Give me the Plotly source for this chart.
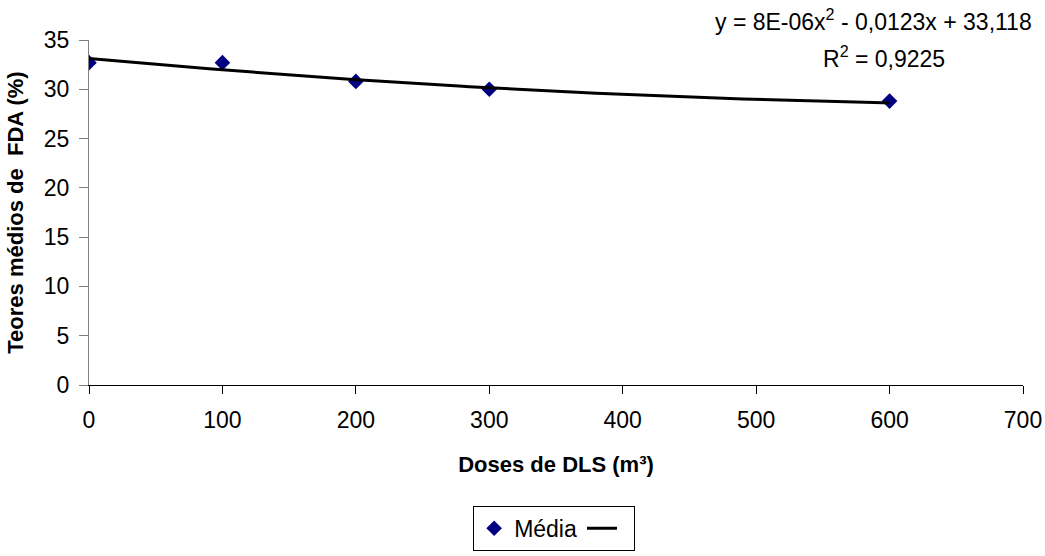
import numpy as np
import plotly.graph_objects as go

doses = [0, 100, 200, 300, 600]
media = [32.7, 32.7, 30.8, 30.0, 28.8]

# trendline coefficients as displayed on chart
coef_a = 8e-06
coef_b = -0.0123
coef_c = 33.118
trend_x = np.linspace(0, 600, 121)
trend_y = coef_a * trend_x**2 + coef_b * trend_x + coef_c

x_ticks = [0, 100, 200, 300, 400, 500, 600, 700]
y_ticks = [0, 5, 10, 15, 20, 25, 30, 35]

font_fam = "Liberation Sans, Arial, sans-serif"

fig = go.Figure()
fig.add_trace(go.Scatter(
    x=doses, y=media, mode="markers", name="Média",
    marker=dict(symbol="diamond", size=12, color="#000080"),
))
fig.add_trace(go.Scatter(
    x=trend_x, y=trend_y, mode="lines", name=" ",
    line=dict(color="black", width=3),
))

fig.update_layout(
    width=1045, height=556,
    margin=dict(l=89, r=22, t=40, b=171, autoexpand=False),
    paper_bgcolor="white", plot_bgcolor="white",
    font=dict(family=font_fam, size=23, color="black"),
    showlegend=True,
    legend=dict(
        orientation="h", x=0.498, xanchor="center", y=-0.35, yanchor="top",
        bordercolor="black", borderwidth=1, font=dict(size=23),
        itemwidth=30, tracegroupgap=0,
    ),
    xaxis=dict(
        range=[0, 700], tickvals=x_ticks, showgrid=False, zeroline=False,
        showline=True, linecolor="black", linewidth=1, automargin=False,
        ticks="outside", ticklen=8, tickcolor="black", ticklabelstandoff=6,
        title=dict(text="<b>Doses de DLS (m³)</b>", standoff=25, font=dict(size=22)),
    ),
    yaxis=dict(
        range=[0, 35], tickvals=y_ticks, showgrid=False, zeroline=False,
        showline=True, linecolor="#808080", linewidth=1, automargin=False,
        ticks="outside", ticklen=9, tickcolor="#808080", ticklabelstandoff=5,
        title=dict(text="<b>Teores médios de  FDA (%)</b>", standoff=14, font=dict(size=22)),
    ),
)

fig.add_annotation(
    xref="paper", yref="paper", x=(873 - 89) / 934, y=(385 - 20) / 345,
    text="y = 8E-06x<sup>2</sup> - 0,0123x + 33,118", showarrow=False,
    xanchor="center", yanchor="middle", font=dict(size=23),
)
fig.add_annotation(
    xref="paper", yref="paper", x=(884 - 89) / 934, y=(385 - 57) / 345,
    text="R<sup>2</sup> = 0,9225", showarrow=False,
    xanchor="center", yanchor="middle", font=dict(size=23),
)

fig.write_html(
    "out.html",
    config={"displayModeBar": False},
    post_script="document.body.style.margin='0px'; document.body.style.overflow='hidden';",
)
